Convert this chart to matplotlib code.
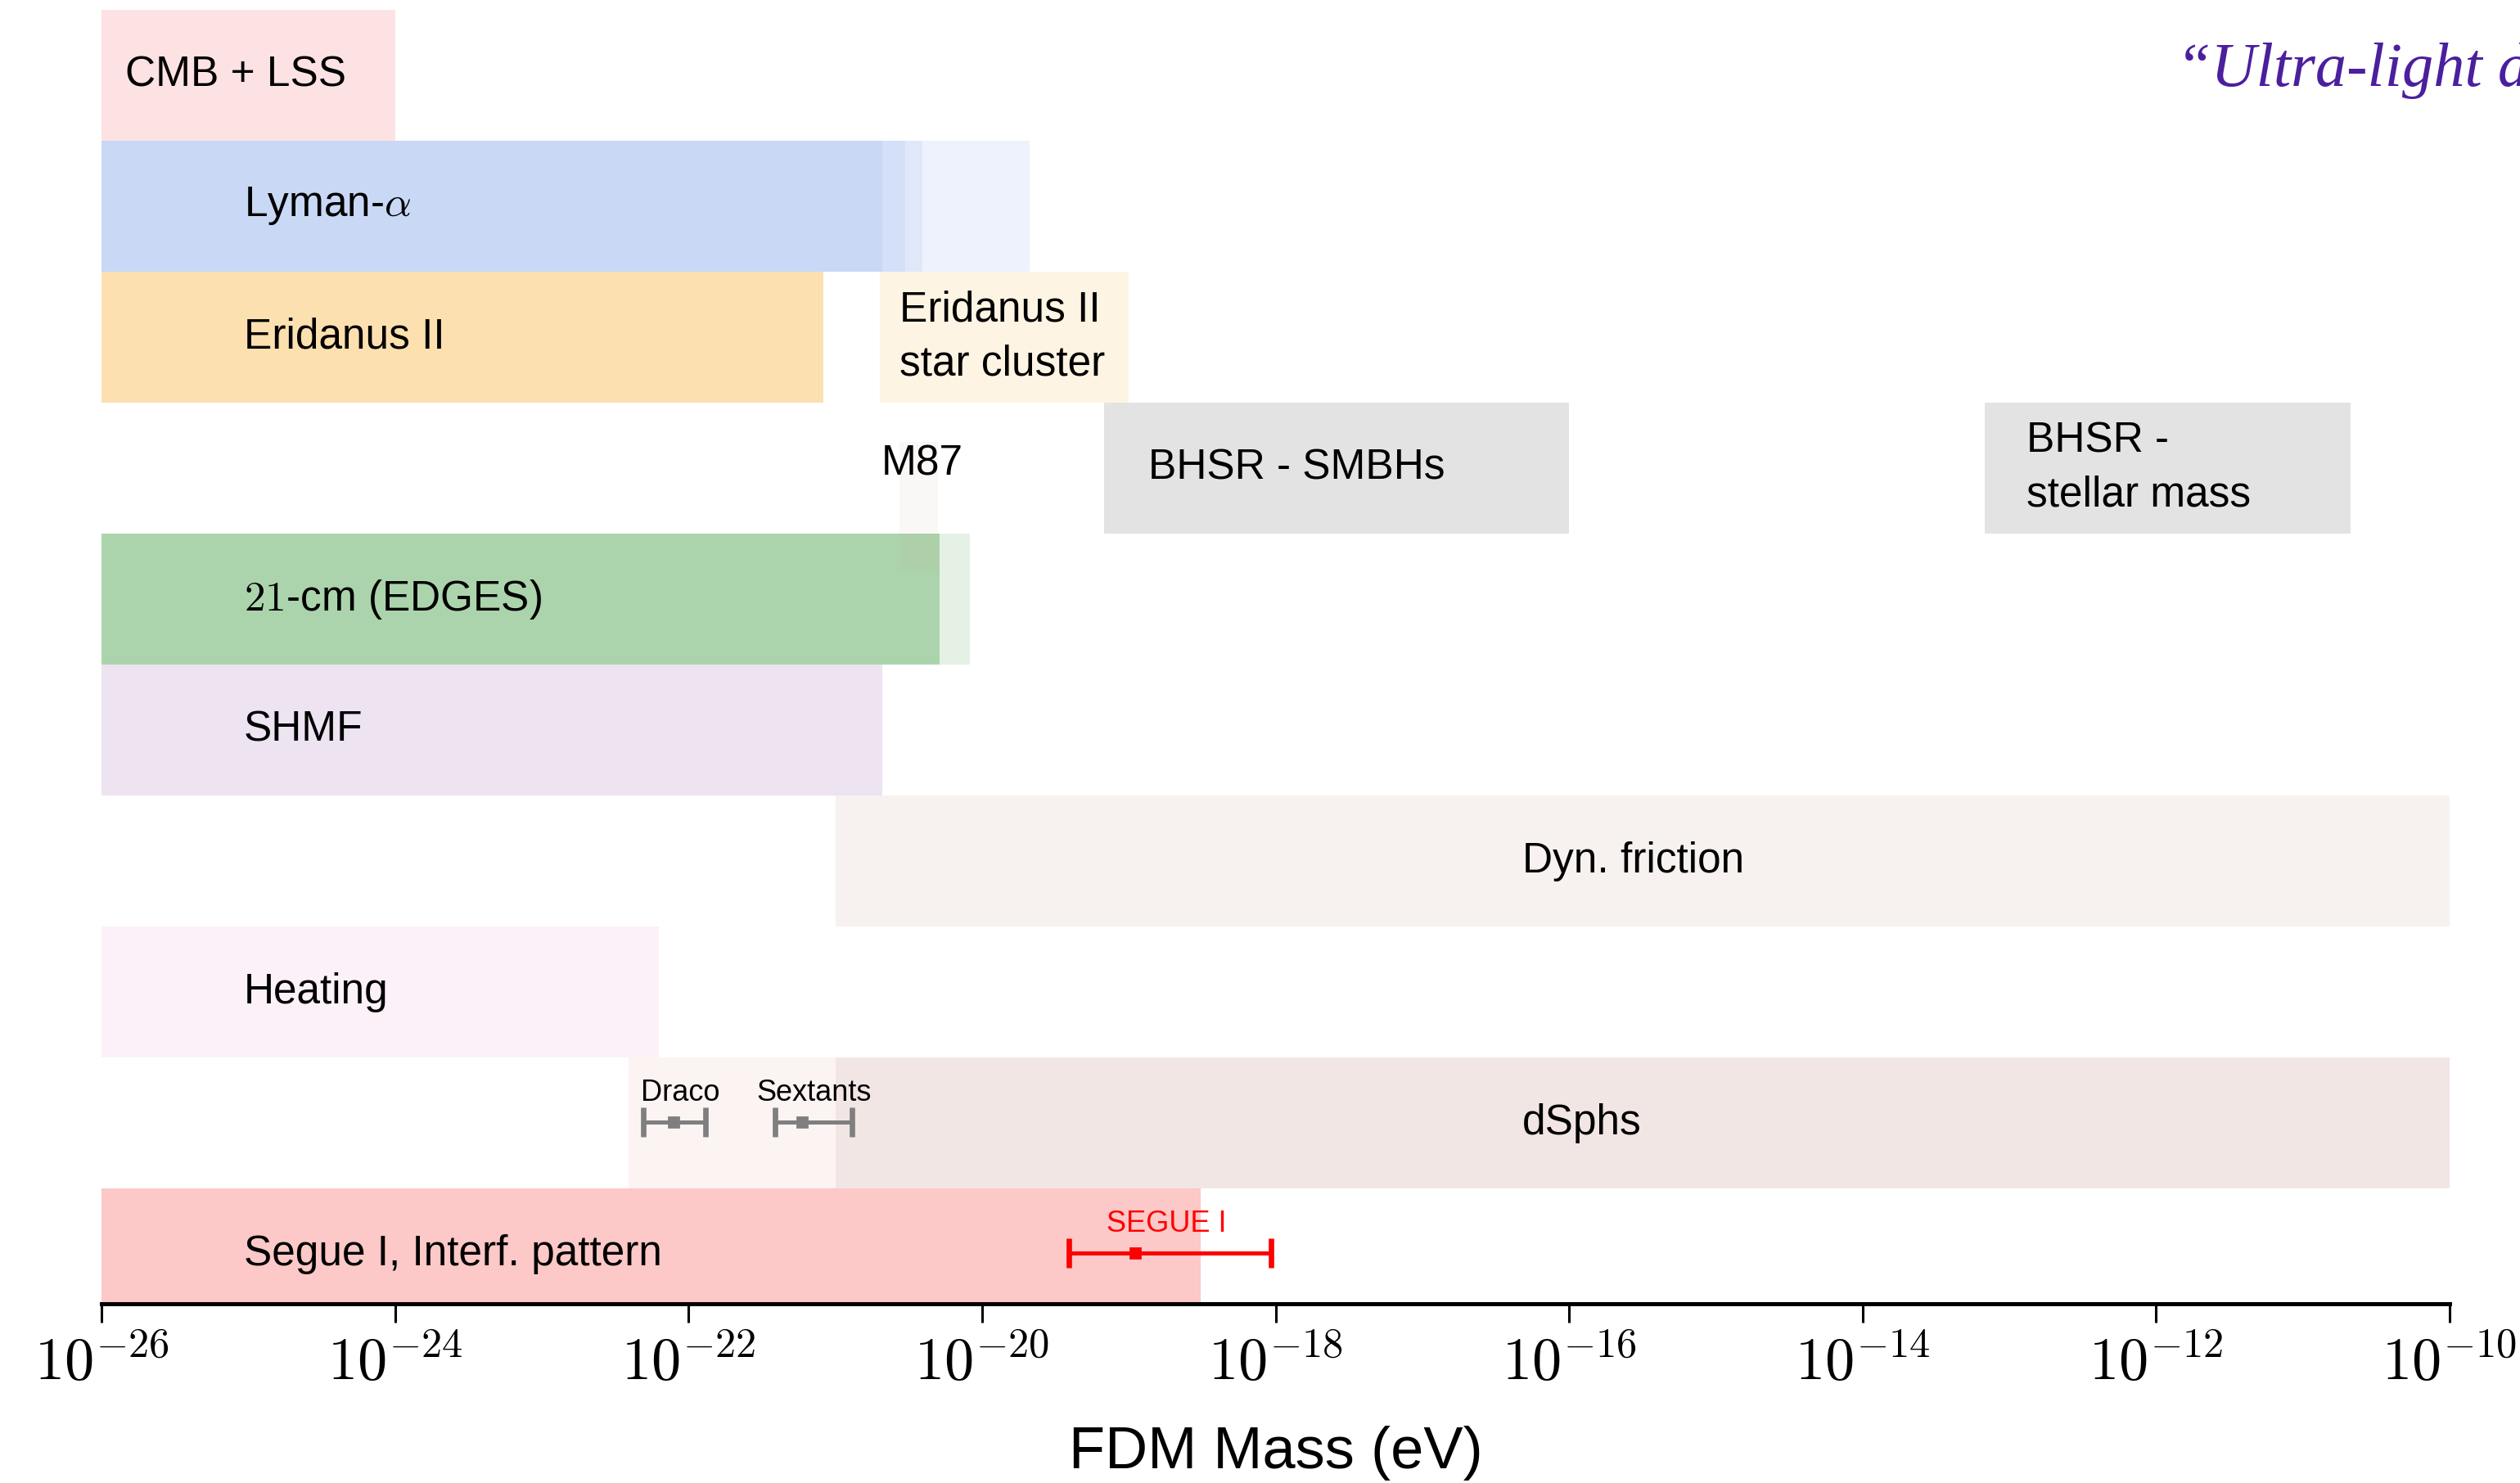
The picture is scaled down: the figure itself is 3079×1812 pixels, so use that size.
import matplotlib
matplotlib.use('Agg')
import matplotlib.pyplot as plt
from matplotlib.ticker import NullLocator

plt.rcParams['font.family'] = ['Liberation Sans', 'DejaVu Sans']
plt.rcParams['mathtext.fontset'] = 'cm'

# constraint bands: (row, lower mass, upper mass) in eV, row 0 = bottom
band_rows = [9, 8, 8, 8, 8, 7, 7, 6, 6, 5, 5, 4, 3, 2, 1, 1, 0]
band_lo = [1e-26, 1e-26, 2.09e-21, 3.0e-21, 3.9e-21, 1e-26, 2.0e-21, 6.8e-20, 6.8e-14,
           1e-26, 5.1e-21, 1e-26, 1e-21, 1e-26, 3.9e-23, 1e-21, 1e-26]
band_hi = [1e-24, 2.09e-21, 3.0e-21, 3.9e-21, 2.1e-20, 8.3e-22, 1e-19, 1e-16, 2.1e-11,
           5.1e-21, 8.3e-21, 2.1e-21, 1e-10, 6.3e-23, 1e-21, 1e-10, 3.1e-19]
band_colors = ['#fde2e4', '#c8d8f5', '#d4e0f7', '#dfe8f9', '#edf2fc', '#fde0b0', '#fef4e3',
               '#e3e3e3', '#e3e3e3', '#acd4ac', '#e4f1e4', '#ede3f1', '#f7f2ef', '#fcf1f8',
               '#fcf4f2', '#f2e6e5', '#fcc8c8']

# M87 band sits between rows
m87_lo, m87_hi = 2.75e-21, 5.0e-21
m87_y0, m87_y1 = 5.71, 6.70

# labels: text, x, y
label_texts = ['CMB + LSS', r'Lyman-$\alpha$', 'Eridanus II', 'Eridanus II\nstar cluster', 'M87',
               'BHSR - SMBHs', 'BHSR -\nstellar mass', r'$21$-cm (EDGES)', 'SHMF', 'Dyn. friction',
               'Heating', 'dSphs', 'Segue I, Interf. pattern']
label_x = [1.45e-26, 0.93e-25, 0.93e-25, 2.75e-21, 2.05e-21, 1.35e-19, 1.3e-13, 0.93e-25, 0.93e-25,
           4.8e-17, 0.93e-25, 4.8e-17, 0.93e-25]
label_y = [9.5, 8.5, 7.5, 7.5, 6.53, 6.5, 6.5, 5.5, 4.5, 3.5, 2.5, 1.5, 0.5]

# measurements with error bars
pt_names = ['Draco', 'Sextants', 'SEGUE I']
pt_mass = [7.9e-23, 5.9e-22, 1.1e-19]
pt_lo = [4.9e-23, 3.9e-22, 3.9e-20]
pt_hi = [1.3e-22, 1.3e-21, 9.3e-19]
pt_y = [1.51, 1.51, 0.51]
pt_colors = ['#7f7f7f', '#7f7f7f', '#ff0000']
pt_label_x = [4.7e-23, 2.9e-22, 1.8e-19]
pt_label_y = [1.73, 1.73, 0.73]
pt_label_ha = ['left', 'left', 'center']

ticks = [1e-26, 1e-24, 1e-22, 1e-20, 1e-18, 1e-16, 1e-14, 1e-12, 1e-10]
tick_labels = [r'$10^{-26}$', r'$10^{-24}$', r'$10^{-22}$', r'$10^{-20}$', r'$10^{-18}$',
               r'$10^{-16}$', r'$10^{-14}$', r'$10^{-12}$', r'$10^{-10}$']

fig = plt.figure(figsize=(15.395, 9.06), dpi=200)
ax = fig.add_axes([0.0403, 0.1209, 0.9318, 0.8725])
ax.set_xscale('log')

for r, lo, hi, c in zip(band_rows, band_lo, band_hi, band_colors):
    ax.barh(r, hi - lo, left=lo, height=1, align='edge', color=c, linewidth=0, zorder=1)

ax.fill_between([m87_lo, m87_hi], m87_y0, m87_y1, color='#c8a890', alpha=0.08, linewidth=0, zorder=2)

for t, x, y in zip(label_texts, label_x, label_y):
    ax.text(x, y, t, fontsize=18.5, ha='left', va='center', zorder=5, linespacing=1.45)

for i in range(len(pt_names)):
    err = [[pt_mass[i] - pt_lo[i]], [pt_hi[i] - pt_mass[i]]]
    ax.errorbar([pt_mass[i]], [pt_y[i]], xerr=err, fmt='s', color=pt_colors[i], ms=4.5,
                elinewidth=1.8, capsize=6.5, capthick=2.4, zorder=4)
    ax.text(pt_label_x[i], pt_label_y[i], pt_names[i], fontsize=13,
            color='black' if i < 2 else pt_colors[i], ha=pt_label_ha[i], va='center', zorder=5)

ax.set_xlim(1e-26, 1e-10)
ax.set_ylim(0.12, 10)
ax.set_xticks(ticks)
ax.set_xticklabels(tick_labels, fontsize=26)
ax.xaxis.set_minor_locator(NullLocator())
ax.set_yticks([])
for s in ['left', 'right', 'top']:
    ax.spines[s].set_visible(False)
ax.spines['bottom'].set_linewidth(1.8)
ax.spines['bottom'].set_zorder(6)
ax.tick_params(axis='x', length=8.3, width=1.1, pad=6)
ax.set_xlabel('FDM Mass (eV)', fontsize=26, labelpad=15)

# slide title, cut by the right edge as in the original
fig.text(0.8636, 0.942, '\u201cUltra-light dark matter\u201d', fontsize=27.5, color='#4b1f9e',
         family=['Liberation Serif', 'DejaVu Serif'], style='italic', va='baseline', ha='left')

fig.savefig('out.png', dpi=200)
